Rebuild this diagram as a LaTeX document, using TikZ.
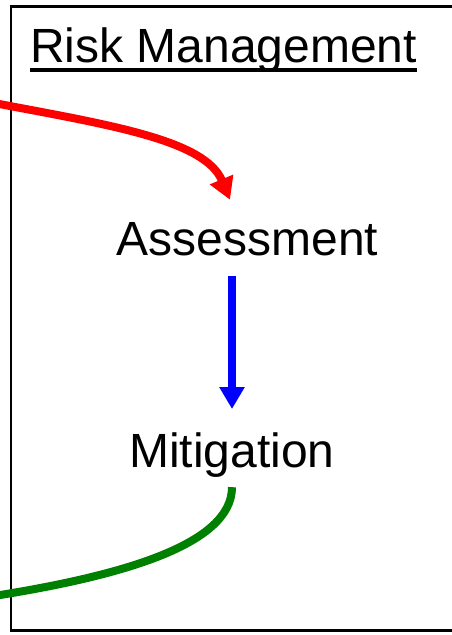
\documentclass[tikz,border=0pt]{standalone}
\usepackage{fontspec}
\setmainfont{Liberation Sans}
\usepackage{tikz}
\usetikzlibrary{arrows.meta}
\definecolor{darkgreen}{RGB}{0,128,0}

\begin{document}
\begin{tikzpicture}[x=1pt,y=-1pt,
    label/.style={font=\fontsize{48}{56}\selectfont,anchor=base,inner sep=3pt},
    flow/.style={line width=8pt,-{Triangle[length=22pt,width=24pt]}}]
      \useasboundingbox (0,0) rectangle (452,635);
      \draw [line width=2.5pt] (11,6.5) rectangle (470,630.5);
      \node (T) [font=\fontsize{48}{56}\selectfont,anchor=base west,inner sep=0pt] at (30,62) {Risk Management};
      \draw [line width=3.2pt] ([yshift=-8]T.base west) to ([yshift=-8]T.base east);
      \node (A) [label] at (247.5,255) {Assessment};
      \node (M) [label] at (232,467) {Mitigation};
      \coordinate (in) at (-6,103);
      \coordinate (out) at (-6,596);
      \draw [flow,red] (in) .. controls (110,125) and (205,140) .. ([xshift=-17.5,yshift=19]A.north);
      \draw [flow,blue,shorten <=17pt,shorten >=20pt] (A.south -| M) to (M.north);
      \draw [line width=8pt,darkgreen,shorten <=7pt] (M.south) .. controls (232,545) and (120,576) .. (out);
    \end{tikzpicture}
\end{document}
